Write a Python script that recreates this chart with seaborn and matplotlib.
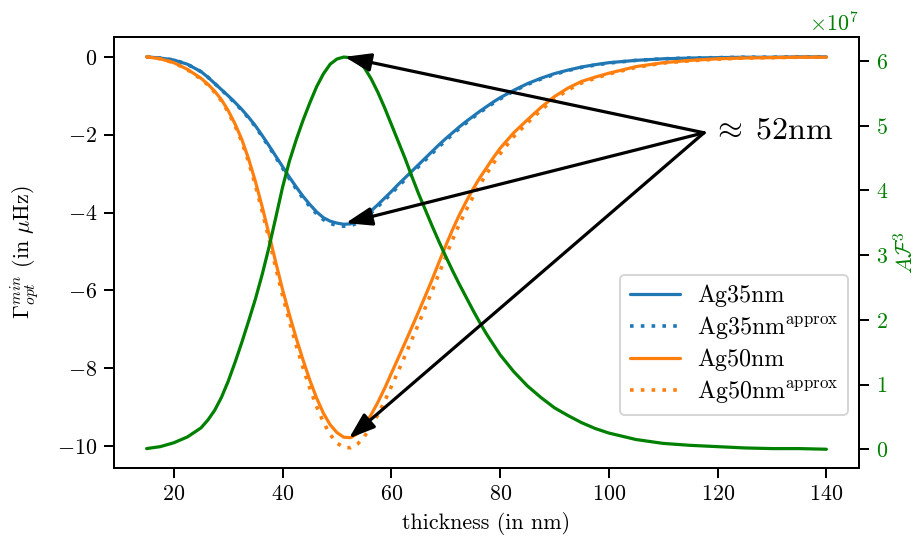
import numpy as np
import pandas as pd
import matplotlib
matplotlib.use("Agg")
import matplotlib.pyplot as plt
import seaborn as sns

# ---- data ----
thickness = [15, 17.5, 20, 22.5,
             25, 26.25, 27.5, 28.75, 30, 31.25, 32.5, 33.75, 35, 36.25, 37.5, 38.75,
             40, 41.25, 42.5, 43.75, 45, 46.25, 47.5, 48.75, 50, 51.25, 52.5, 53.75,
             55, 56.25, 57.5, 58.75, 60, 61.25, 62.5, 63.75, 65, 66.25, 67.5, 68.75,
             70, 71.25, 72.5, 73.75, 75, 76.25, 77.5, 78.75, 80,
             82.5, 85, 87.5, 90, 92.5, 95, 97.5, 100,
             105, 110, 115, 120, 125, 130, 135, 140]

ag35 = [0.0, -0.03, -0.08, -0.19,
        -0.38, -0.52, -0.68, -0.84, -1.0, -1.17, -1.35, -1.55, -1.77, -2.02, -2.28, -2.55,
        -2.82, -3.09, -3.34, -3.58, -3.79, -3.98, -4.13, -4.22, -4.27, -4.3, -4.29, -4.22,
        -4.1, -3.96, -3.8, -3.63, -3.46, -3.28, -3.11, -2.94, -2.77, -2.6, -2.43, -2.26,
        -2.1, -1.95, -1.8, -1.66, -1.53, -1.4, -1.28, -1.16, -1.05,
        -0.86, -0.69, -0.55, -0.43, -0.34, -0.26, -0.2, -0.15,
        -0.09, -0.05, -0.03, -0.02, -0.01, -0.01, 0.0, 0.0]

ag35_approx = [0.0, -0.03, -0.08, -0.19,
               -0.38, -0.52, -0.68, -0.85, -1.01, -1.19, -1.37, -1.57, -1.79, -2.05, -2.31,
               -2.58, -2.86, -3.13, -3.39, -3.63, -3.84, -4.03, -4.18, -4.28, -4.33, -4.35,
               -4.34, -4.27, -4.15, -4.01, -3.85, -3.68, -3.51, -3.33, -3.16, -2.99, -2.82,
               -2.65, -2.48, -2.31, -2.15, -1.99, -1.84, -1.7, -1.56, -1.43, -1.31, -1.19,
               -1.08,
               -0.88, -0.71, -0.57, -0.45, -0.35, -0.27, -0.21, -0.16,
               -0.09, -0.05, -0.03, -0.02, -0.01, -0.01, 0.0, 0.0]

ag50 = [0.0, -0.05, -0.15, -0.32,
        -0.55, -0.7, -0.88, -1.1, -1.38, -1.72, -2.12, -2.62, -3.2, -3.85, -4.55, -5.28,
        -5.98, -6.62, -7.22, -7.78, -8.3, -8.76, -9.15, -9.45, -9.65, -9.77, -9.78, -9.68,
        -9.47, -9.2, -8.88, -8.52, -8.13, -7.74, -7.35, -6.95, -6.55, -6.14, -5.72, -5.28,
        -4.85, -4.44, -4.06, -3.72, -3.4, -3.11, -2.85, -2.59, -2.35,
        -1.95, -1.62, -1.3, -1.02, -0.8, -0.63, -0.52, -0.42,
        -0.25, -0.15, -0.09, -0.05, -0.03, -0.02, -0.01, -0.01]

ag50_approx = [0.0, -0.05, -0.15, -0.33,
               -0.57, -0.72, -0.91, -1.13, -1.42, -1.77, -2.18, -2.7, -3.3, -3.97, -4.68,
               -5.42, -6.13, -6.79, -7.41, -7.98, -8.51, -8.98, -9.38, -9.7, -9.92, -10.03,
               -10.04, -9.95, -9.76, -9.5, -9.2, -8.85, -8.47, -8.08, -7.68, -7.27, -6.86,
               -6.44, -6.01, -5.57, -5.13, -4.7, -4.3, -3.94, -3.6, -3.29, -3.01, -2.74,
               -2.49,
               -2.05, -1.7, -1.37, -1.08, -0.85, -0.67, -0.55, -0.44,
               -0.27, -0.16, -0.1, -0.06, -0.03, -0.02, -0.01, -0.01]

af3 = [0.01, 0.04, 0.1, 0.19,
       0.33, 0.45, 0.6, 0.8, 1.05, 1.34, 1.65, 1.98, 2.32, 2.7, 3.12, 3.58,
       4.05, 4.45, 4.78, 5.08, 5.35, 5.6, 5.8, 5.95, 6.03, 6.06, 6.05, 5.99,
       5.9, 5.73, 5.52, 5.28, 5.02, 4.76, 4.5, 4.22, 3.95, 3.7, 3.45, 3.21,
       2.98, 2.76, 2.55, 2.35, 2.15, 1.96, 1.78, 1.62, 1.46,
       1.2, 0.98, 0.8, 0.64, 0.52, 0.41, 0.32, 0.25,
       0.15, 0.09, 0.06, 0.04, 0.02, 0.01, 0.01, 0.0]
af3_scale = 1e7

arrow_origin = (117.5, -1.95)
arrow_targets = [(51.4, 0.0), (51.6, -4.27), (52.2, -9.8)]
annot_text = r"$\approx\;52\mathrm{nm}$"

# ---- style ----
sns.set_style("ticks", rc={"axes.edgecolor": "black", "xtick.color": "black",
                           "ytick.color": "black", "axes.labelcolor": "black",
                           "text.color": "black"})
plt.rcParams["font.family"] = ["cmr10", "DejaVu Serif"]
plt.rcParams["mathtext.fontset"] = "cm"
plt.rcParams["axes.formatter.use_mathtext"] = True
plt.rcParams["font.size"] = 11
plt.rcParams["axes.unicode_minus"] = True

blue = "#1f77b4"
orange = "#ff7f0e"
green = "green"

fig = plt.figure(figsize=(916 / 144, 538 / 144), dpi=144)
ax = fig.add_axes([114 / 916, 1 - 468 / 538, (859 - 114) / 916, (468 - 37) / 538])

df = pd.DataFrame({"x": thickness, "ag35": ag35, "ag35a": ag35_approx,
                   "ag50": ag50, "ag50a": ag50_approx,
                   "af3": np.array(af3) * af3_scale})

dots = (0, (1, 2.0))
sns.lineplot(data=df, x="x", y="ag35", ax=ax, color=blue, lw=1.6, label="Ag35nm")
sns.lineplot(data=df, x="x", y="ag35a", ax=ax, color=blue, lw=1.8, linestyle=dots,
             label=r"Ag35nm$^{\mathrm{approx}}$")
sns.lineplot(data=df, x="x", y="ag50", ax=ax, color=orange, lw=1.6, label="Ag50nm")
sns.lineplot(data=df, x="x", y="ag50a", ax=ax, color=orange, lw=1.8, linestyle=dots,
             label=r"Ag50nm$^{\mathrm{approx}}$")

ax.set_xlim(9.0, 146.0)
ax.set_ylim(-10.56, 0.51)
ax.set_xticks([20, 40, 60, 80, 100, 120, 140])
ax.set_yticks([0, -2, -4, -6, -8, -10])
ax.set_xlabel("thickness (in nm)")
ax.set_ylabel(r"$\Gamma_{opt}^{min}$ (in $\mu$Hz)", rotation=90, va="center",
              ha="center")
ax.yaxis.set_label_coords((25 - 114) / 745, 0.5)
ax.tick_params(length=4.8, width=1.0, labelsize=11)
for s in ax.spines.values():
    s.set_linewidth(1.0)
    s.set_visible(True)

leg = ax.legend(loc="lower right", bbox_to_anchor=(0.985, 0.123), borderaxespad=0,
                fontsize=12, handlelength=2.1, handletextpad=0.7, labelspacing=0.3)
leg.get_frame().set_linewidth(1.0)

ax2 = ax.twinx()
sns.lineplot(data=df, x="x", y="af3", ax=ax2, color=green, lw=1.6, legend=False)
ax2.set_ylim(-0.29e7, 6.37e7)
ax2.set_yticks(np.arange(0, 7) * 1e7)
ax2.set_ylabel(r"$A\mathcal{F}^3$", color=green, rotation=90, va="center", ha="center")
ax2.yaxis.set_label_coords((905 - 114) / 745, 0.5)
ax2.tick_params(axis="y", colors="black", labelcolor=green, length=4.8, width=1.0,
                labelsize=11)
ax2.yaxis.get_offset_text().set_color(green)
ax2.yaxis.get_offset_text().set_fontsize(11)
for s in ax2.spines.values():
    s.set_linewidth(1.0)
    s.set_visible(True)

for tgt in arrow_targets:
    ax2.annotate("", xy=tgt, xycoords=ax.transData, xytext=arrow_origin,
                 textcoords=ax.transData,
                 arrowprops=dict(arrowstyle="-|>,head_length=1.0,head_width=0.35",
                                 color="black", lw=1.6, shrinkA=0, shrinkB=0))
ax2.text(118.9, -2.1, annot_text, transform=ax.transData, fontsize=16,
         ha="left", va="baseline")

fig.savefig("out.png", dpi=144)
